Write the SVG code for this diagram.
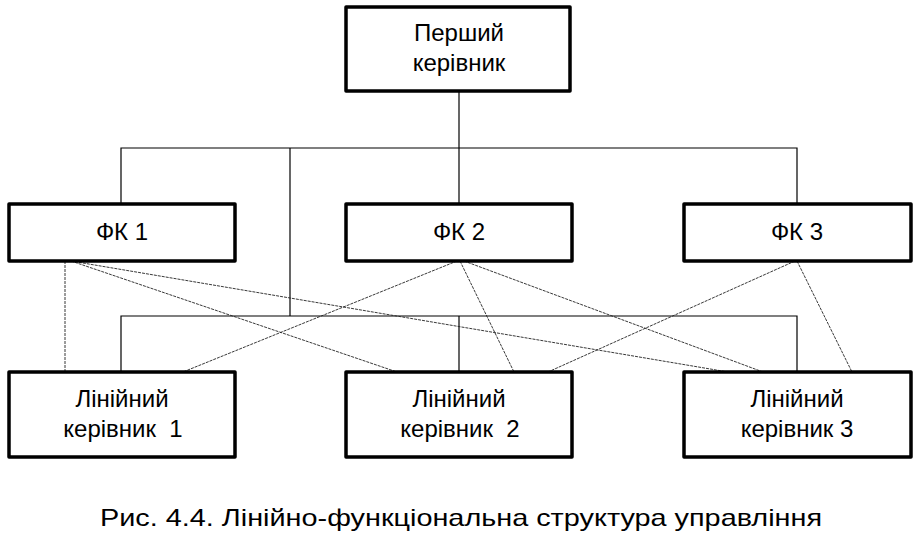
<svg xmlns="http://www.w3.org/2000/svg" width="918" height="544" viewBox="0 0 918 544">
<style>
.box{fill:#fff;stroke:#000;stroke-width:3.5;stroke-linejoin:round}
.t{font-family:"Liberation Sans",Arial,sans-serif;fill:#000;text-anchor:middle;white-space:pre}
.s{font-size:24px}
.f{font-size:24px}
.ln{stroke:#000;stroke-width:1.2;fill:none}
.dl{stroke:#222;stroke-width:0.9;stroke-dasharray:3 1;fill:none}
</style>
<rect width="918" height="544" fill="#fff"/>
<g id="connectors">
<polyline class="ln" points="459,91 459,204"/>
<polyline class="ln" points="121,204 121,148 797,148 797,204"/>
<polyline class="ln" points="290,148 290,316"/>
<polyline class="ln" points="121,372 121,316 797,316 797,372"/>
<polyline class="ln" points="459,316 459,372"/>
<line class="dl" x1="65" y1="261" x2="65" y2="372"/>
<line class="dl" x1="71" y1="261" x2="397" y2="372"/>
<line class="dl" x1="71" y1="261" x2="728" y2="372"/>
<line class="dl" x1="457" y1="261" x2="183" y2="372"/>
<line class="dl" x1="460" y1="261" x2="514" y2="372"/>
<line class="dl" x1="464" y1="261" x2="763" y2="372"/>
<line class="dl" x1="795" y1="261" x2="548" y2="372"/>
<line class="dl" x1="797" y1="261" x2="852" y2="372"/>
</g>
<g id="top">
<rect class="box" x="346" y="7" width="224" height="84"/>
<text class="t s" x="459" y="41">Перший</text>
<text class="t s" x="459" y="71">керівник</text>
</g>
<g id="fk1">
<rect class="box" x="9" y="204" width="226" height="57"/>
<text class="t f" x="122" y="240">ФК 1</text>
</g>
<g id="fk2">
<rect class="box" x="346" y="204" width="226" height="57"/>
<text class="t f" x="459" y="240">ФК 2</text>
</g>
<g id="fk3">
<rect class="box" x="684" y="204" width="227" height="57"/>
<text class="t f" x="797" y="240">ФК 3</text>
</g>
<g id="l1">
<rect class="box" x="9" y="372" width="226" height="85"/>
<text class="t s" x="122" y="407">Лінійний</text>
<text class="t s" x="123" y="437">керівник  1</text>
</g>
<g id="l2">
<rect class="box" x="346" y="372" width="226" height="85"/>
<text class="t s" x="459" y="407">Лінійний</text>
<text class="t s" x="460" y="437">керівник  2</text>
</g>
<g id="l3">
<rect class="box" x="684" y="372" width="227" height="85"/>
<text class="t s" x="797" y="407">Лінійний</text>
<text class="t s" x="797" y="437">керівник 3</text>
</g>
<text class="t" x="461" y="526" font-size="24" textLength="722" lengthAdjust="spacingAndGlyphs">Рис. 4.4. Лінійно-функціональна структура управління</text>
</svg>
